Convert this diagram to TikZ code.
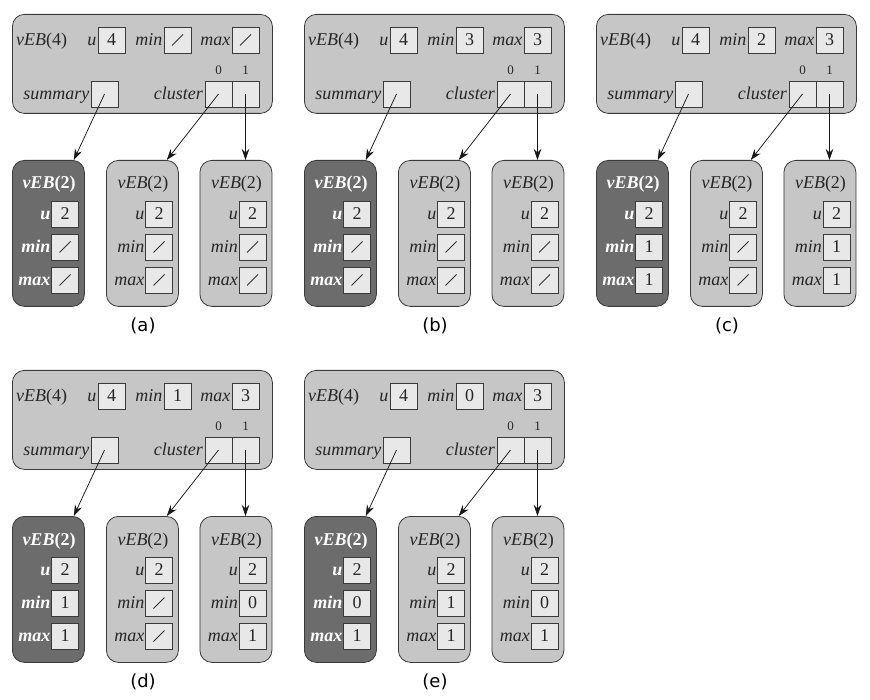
\documentclass[tikz,border=0pt]{standalone}
\usepackage{fontspec}
\setmainfont{Liberation Serif}
\newfontfamily\capfont{DejaVu Sans}
\usetikzlibrary{arrows.meta,calc}
\definecolor{boxgray}{HTML}{C6C6C6}
\definecolor{cellgray}{HTML}{E8E8E8}
\definecolor{darkfill}{HTML}{6C6C6C}
\definecolor{edgegray}{HTML}{3A3A3A}
\newcommand\vebfs{\fontsize{18}{21}\selectfont}
\def\nilmark{-}
\tikzset{
 bigbox/.style={draw=edgegray, fill=boxgray, rounded corners=12pt, line width=0.8pt, minimum width=260pt, minimum height=99pt, inner sep=0pt, anchor=north west},
 subbox/.style={draw=edgegray, fill=boxgray, rounded corners=12pt, line width=0.8pt, minimum width=72pt, minimum height=146pt, inner sep=0pt, anchor=north west},
 darkbox/.style={subbox, fill=darkfill},
 cell/.style={draw=edgegray, fill=cellgray, line width=0.8pt, minimum width=27pt, minimum height=26pt, inner sep=0pt, font=\vebfs, text=black!85},
 lt/.style={inner sep=0pt, font=\vebfs\itshape, text=black!85, anchor=base east},
 dk/.style={lt, font=\vebfs\bfseries\itshape, text=white},
 lt-t/.style={inner sep=0pt, font=\vebfs, text=black!85, anchor=base},
 dk-t/.style={lt-t, font=\vebfs\bfseries, text=white},
 ttl/.style={inner sep=0pt, font=\vebfs, text=black!85, anchor=base west},
 idx/.style={inner sep=0pt, font=\fontsize{13}{15}\selectfont, text=black!85},
 ptr/.style={-{Stealth[length=11pt,width=7.5pt]}, line width=0.75pt, black!90},
 nilslash/.style={line width=0.75pt, black!80},
 caption/.style={inner sep=0pt, font=\capfont\fontsize{18}{21}\selectfont},
}
\newcommand\vcell[3]{%
 \node[cell] (#1) at (#2) {\def\tmpv{#3}\ifx\tmpv\nilmark\else#3\fi};
 \def\tmpv{#3}\ifx\tmpv\nilmark\draw[nilslash] ($(#1.center)+(-5.5,5.5)$) -- ($(#1.center)+(5.5,-5.5)$);\fi
}
\newcommand\toppanel[5]{%
\begin{scope}[shift={(#2)}]
 \node[bigbox] (#1-top) at (12,14) {};
 \node[ttl] (#1-title) at (16,45.5) {\textit{vEB}(4)};
 \node[lt] (#1-ul) at (96.5,45.5) {u};
 \vcell{#1-u}{111.5,40}{4}
 \node[lt] (#1-minl) at (162.5,45.5) {min};
 \vcell{#1-min}{177.5,40}{#4}
 \node[lt] (#1-maxl) at (230.5,45.5) {max};
 \vcell{#1-max}{245.5,40}{#5}
 \node[lt] (#1-suml) at (89.5,99.5) {summary};
 \vcell{#1-sum}{104.5,94}{}
 \node[lt] (#1-cll) at (203,99.5) {cluster};
 \vcell{#1-c0}{218.5,94}{}
 \vcell{#1-c1}{245.5,94}{}
 \node[idx] (#1-i0) at (218.5,70) {0};
 \node[idx] (#1-i1) at (245.5,70) {1};
 \node[caption] (#1-cap) at (143,326) {#3};
\end{scope}}
\newcommand\subb[6]{%
 \node[#3] (#1) at (#2,160) {};
 \node[#4-t] (#1-t) at ({#2+37},189) {\textit{vEB}(2)};
 \node[#4] (#1-ul) at ({#2+38.5},219.5) {u};
 \vcell{#1-u}{{#2+53},214}{2}
 \node[#4] (#1-minl) at ({#2+38.5},252.5) {min};
 \vcell{#1-min}{{#2+53},247}{#5}
 \node[#4] (#1-maxl) at ({#2+38.5},285.5) {max};
 \vcell{#1-max}{{#2+53},280}{#6}
}
\newcommand\subpanel[8]{%
\begin{scope}[shift={(#2)}]
 \subb{#1-s0}{12}{darkbox}{dk}{#3}{#4}
 \subb{#1-s1}{106}{subbox}{lt}{#5}{#6}
 \subb{#1-s2}{199.5}{subbox}{lt}{#7}{#8}
 \draw[ptr] (#1-sum.center) -- ($(#1-s0.north east)+(-11,0)$);
 \draw[ptr] (#1-c0.center) -- ($(#1-s1.north east)+(-12,0)$);
 \draw[ptr] (#1-c1.center) -- (#1-c1.center |- #1-s2.north);
\end{scope}}
\begin{document}
\begin{tikzpicture}[x=1pt,y=-1pt]
\useasboundingbox[fill=white] (0,0) rectangle (870,700);
\toppanel{a}{0,0}{(a)}{-}{-}
\subpanel{a}{0,0}{-}{-}{-}{-}{-}{-}
\toppanel{b}{292,0}{(b)}{3}{3}
\subpanel{b}{292,0}{-}{-}{-}{-}{-}{-}
\toppanel{c}{584,0}{(c)}{2}{3}
\subpanel{c}{584,0}{1}{1}{-}{-}{1}{1}
\toppanel{d}{0,356}{(d)}{1}{3}
\subpanel{d}{0,356}{1}{1}{-}{-}{0}{1}
\toppanel{e}{292,356}{(e)}{0}{3}
\subpanel{e}{292,356}{0}{1}{1}{1}{0}{1}
\end{tikzpicture}
\end{document}
